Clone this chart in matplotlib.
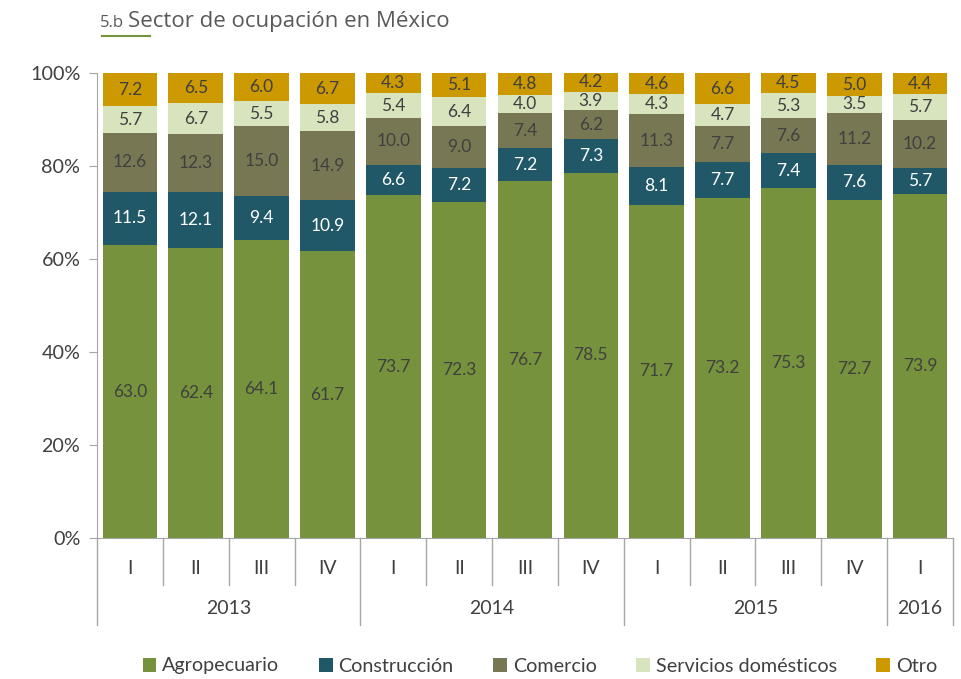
import matplotlib
matplotlib.use("Agg")
import matplotlib.pyplot as plt
import numpy as np
from matplotlib.patches import Patch
from matplotlib.lines import Line2D

plt.rcParams['font.family'] = ['Lato', 'DejaVu Sans']

quarters = ["I", "II", "III", "IV", "I", "II", "III", "IV", "I", "II", "III", "IV", "I"]
years = ["2013", "2014", "2015", "2016"]
year_counts = [4, 4, 4, 1]

series_names = ["Agropecuario", "Construcción", "Comercio", "Servicios domésticos", "Otro"]
agropecuario = [63.0, 62.4, 64.1, 61.7, 73.7, 72.3, 76.7, 78.5, 71.7, 73.2, 75.3, 72.7, 73.9]
construccion = [11.5, 12.1, 9.4, 10.9, 6.6, 7.2, 7.2, 7.3, 8.1, 7.7, 7.4, 7.6, 5.7]
comercio = [12.6, 12.3, 15.0, 14.9, 10.0, 9.0, 7.4, 6.2, 11.3, 7.7, 7.6, 11.2, 10.2]
servicios = [5.7, 6.7, 5.5, 5.8, 5.4, 6.4, 4.0, 3.9, 4.3, 4.7, 5.3, 3.5, 5.7]
otro = [7.2, 6.5, 6.0, 6.7, 4.3, 5.1, 4.8, 4.2, 4.6, 6.6, 4.5, 5.0, 4.4]

colors = ["#76923c", "#215868", "#777754", "#d7e4bd", "#cc9900"]
text_colors = ["#404040", "#ffffff", "#404040", "#404040", "#404040"]

fig = plt.figure(figsize=(9.62, 6.79), dpi=100)
ax = fig.add_axes([97/962, 1-538/679, (953-97)/962, (538-73)/679])

data = [agropecuario, construccion, comercio, servicios, otro]
x = np.arange(len(quarters))
bottom = np.zeros(len(quarters))
for vals, c, tc in zip(data, colors, text_colors):
    vals = np.array(vals)
    ax.bar(x, vals, width=0.83, bottom=bottom, color=c, edgecolor='none')
    for xi, b, v in zip(x, bottom, vals):
        ax.text(xi, b + v/2, f"{v:.1f}", ha='center', va='center', fontsize=12.5, color=tc)
    bottom = bottom + vals

ax.set_xlim(-0.5, len(quarters) - 0.5)
ax.set_ylim(0, 100)
ax.set_yticks([0, 20, 40, 60, 80, 100])
ax.set_yticklabels([f"{v}%" for v in [0, 20, 40, 60, 80, 100]], fontsize=14.2, color="#404040")
ax.tick_params(axis='y', direction='out', length=6, color="#a6a6a6", pad=6)
ax.set_xticks([])
for s in ['top', 'right']:
    ax.spines[s].set_visible(False)
ax.spines['left'].set_color("#a6a6a6")
ax.spines['bottom'].set_color("#a6a6a6")

trans = ax.get_xaxis_transform()
q_end = -(585-538)/465
y_end = -(625-538)/465
year_bounds = [-0.5]
for n in year_counts:
    year_bounds.append(year_bounds[-1] + n)
for i in range(len(quarters) + 1):
    xb = i - 0.5
    end = y_end if xb in year_bounds else q_end
    ax.add_line(Line2D([xb, xb], [0, end], transform=trans, color="#a6a6a6", lw=1, clip_on=False))
for xi, q in zip(x, quarters):
    ax.text(xi, -(568-538)/465, q, transform=trans, ha='center', va='center', fontsize=14, color="#404040")
for yr, a, b in zip(years, year_bounds[:-1], year_bounds[1:]):
    ax.text((a + b)/2, -(609-538)/465, yr, transform=trans, ha='center', va='center', fontsize=14, color="#404040")

handles = [Patch(facecolor=c, edgecolor='none') for c in colors]
fig.legend(handles, series_names, loc='center', bbox_to_anchor=(540/962, 1-666/679), ncol=5,
           frameon=False, fontsize=14.2, handlelength=0.7, handleheight=0.7, handletextpad=0.3,
           columnspacing=2.0, labelcolor="#404040")

fig.text(100/962, 1-27/679, "5.b", fontsize=12, color="#595959", va='baseline', ha='left', family=['Open Sans', 'DejaVu Sans'])
fig.text(128/962, 1-27/679, "Sector de ocupación en México", fontsize=16, color="#595959", va='baseline', ha='left', family=['Open Sans', 'DejaVu Sans'])
fig.add_artist(Line2D([102/962, 150/962], [1-36/679, 1-36/679], color="#76923c", lw=1.5))

fig.savefig("out.png", dpi=100)
